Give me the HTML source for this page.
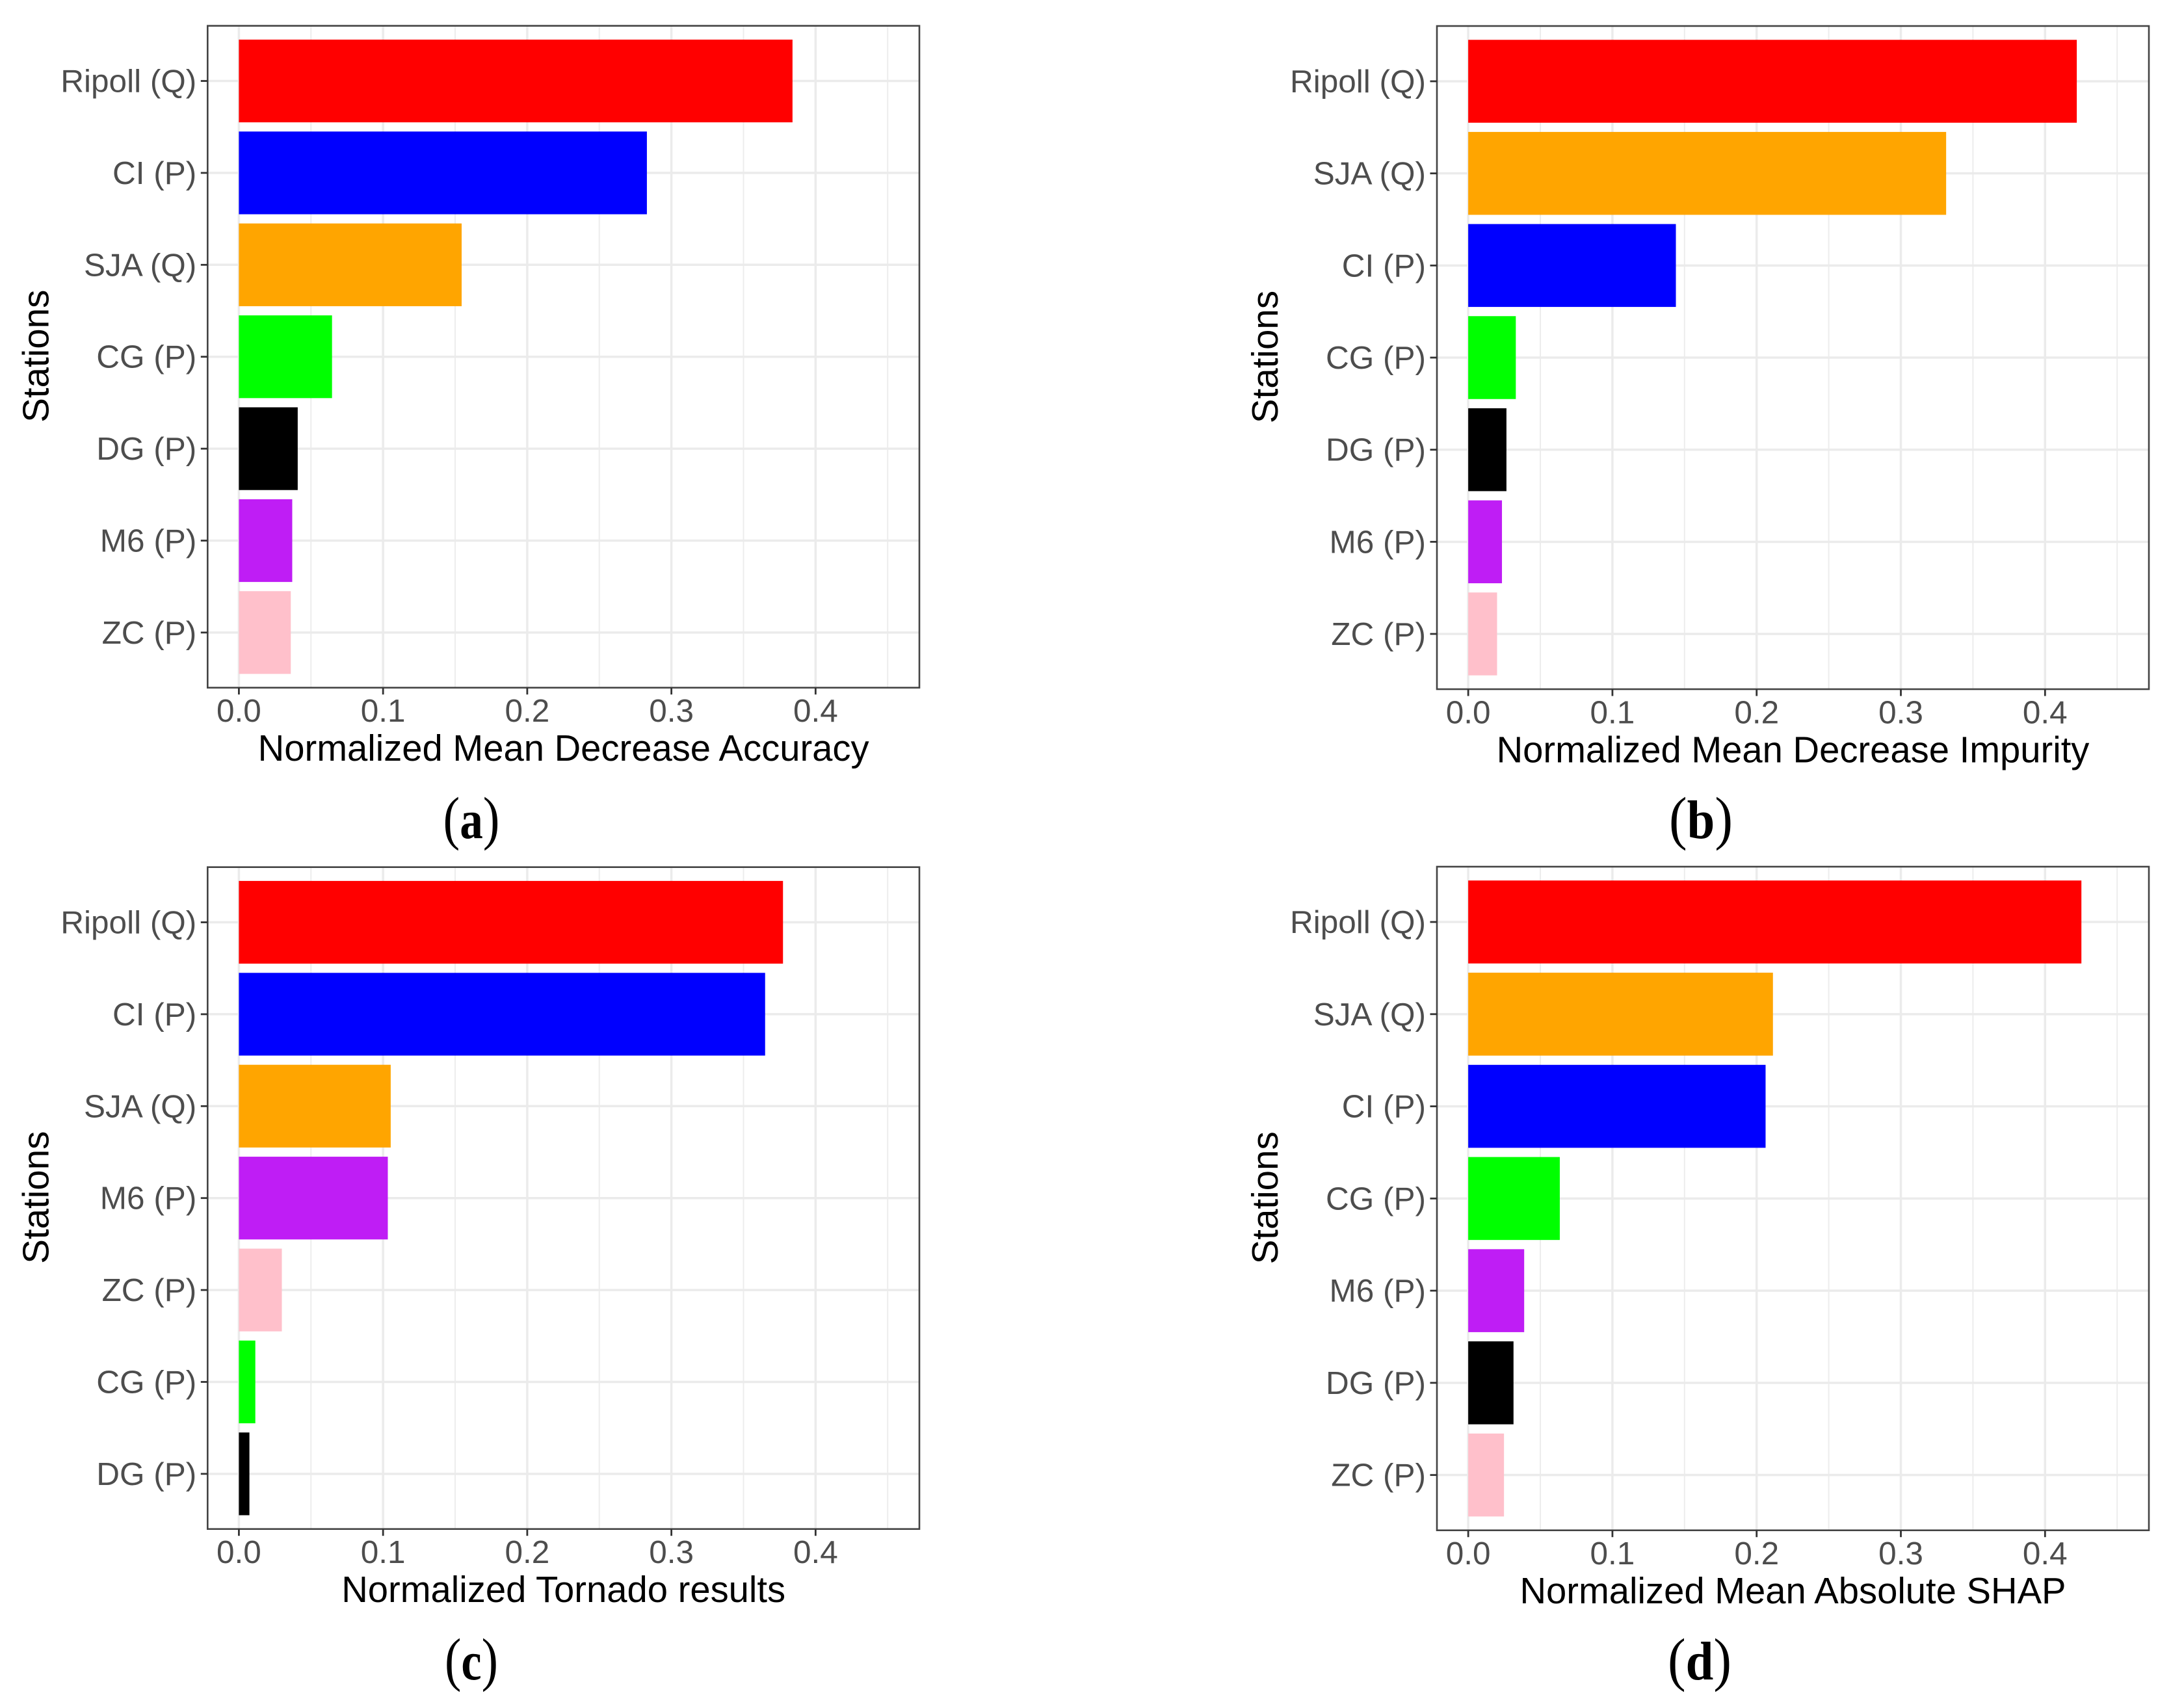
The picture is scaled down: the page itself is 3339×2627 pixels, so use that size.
<!DOCTYPE html>
<html lang="en">
<head>
<meta charset="utf-8">
<title>Normalized station importance</title>
<style>
html,body{margin:0;padding:0;background:#fff;}
svg{display:block;}
text{font-family:"Liberation Sans",Arial,sans-serif;}
</style>
</head>
<body>
<svg id="figure" xmlns="http://www.w3.org/2000/svg" width="3339" height="2627" viewBox="0 0 3339 2627"></svg>
<script>
// ---- chart data ----
const categoriesA = ["Ripoll (Q)", "CI (P)", "SJA (Q)", "CG (P)", "DG (P)", "M6 (P)", "ZC (P)"];
const valuesA = [0.384, 0.283, 0.1545, 0.0646, 0.0408, 0.037, 0.036];
const categoriesB = ["Ripoll (Q)", "SJA (Q)", "CI (P)", "CG (P)", "DG (P)", "M6 (P)", "ZC (P)"];
const valuesB = [0.422, 0.3314, 0.144, 0.033, 0.0265, 0.0234, 0.02];
const categoriesC = ["Ripoll (Q)", "CI (P)", "SJA (Q)", "M6 (P)", "ZC (P)", "CG (P)", "DG (P)"];
const valuesC = [0.3774, 0.365, 0.1053, 0.1033, 0.0298, 0.0114, 0.0073];
const categoriesD = ["Ripoll (Q)", "SJA (Q)", "CI (P)", "CG (P)", "M6 (P)", "DG (P)", "ZC (P)"];
const valuesD = [0.4252, 0.2113, 0.2062, 0.0635, 0.0388, 0.0314, 0.0248];
const majorTicks = [0, 0.1, 0.2, 0.3, 0.4];
const majorTickLabels = ["0.0", "0.1", "0.2", "0.3", "0.4"];
const minorTicks = [0.05, 0.15, 0.25, 0.35, 0.45];
const xDomain = [-0.0217, 0.472];

const stationColors = {
  "Ripoll (Q)": "#ff0000",
  "CI (P)": "#0000ff",
  "SJA (Q)": "#ffa500",
  "CG (P)": "#00ff00",
  "DG (P)": "#000000",
  "M6 (P)": "#bf1df5",
  "ZC (P)": "#ffc0cb"
};

const svg = document.getElementById('figure');
const NS = 'http://www.w3.org/2000/svg';

function make(tag, attrs, parent, content) {
  const el = document.createElementNS(NS, tag);
  for (const k in attrs) el.setAttribute(k, attrs[k]);
  if (content !== undefined) el.textContent = content;
  parent.appendChild(el);
  return el;
}

function slug(s) {
  return s.toLowerCase().replace(/[^a-z0-9]+/g, '-').replace(/^-|-$/g, '');
}

function drawPanel(p) {
  const g = make('g', {}, svg);
  
  

  const w = p.right - p.left;
  const h = p.bottom - p.top;
  const xScale = v => p.left + (v - xDomain[0]) / (xDomain[1] - xDomain[0]) * w;
  const band = h / (p.categories.length + 0.2);
  const yScale = i => p.top + (i + 0.6) * band;

  // minor vertical grid
  minorTicks.forEach(t => {
    const line = make('line', {x1: xScale(t), x2: xScale(t), y1: p.top, y2: p.bottom, stroke: '#ededed', 'stroke-width': 2}, g);
    
    
  });
  // major vertical grid
  majorTicks.forEach(t => {
    const line = make('line', {x1: xScale(t), x2: xScale(t), y1: p.top, y2: p.bottom, stroke: '#ebebeb', 'stroke-width': 3.5}, g);
    
    
  });
  // horizontal grid
  p.categories.forEach((c, i) => {
    const line = make('line', {x1: p.left, x2: p.right, y1: yScale(i), y2: yScale(i), stroke: '#ebebeb', 'stroke-width': 3.5}, g);
    
    
  });
  // bars
  p.values.forEach((v, i) => {
    const bar = make('rect', {
      x: xScale(0),
      y: yScale(i) - band * 0.45,
      width: xScale(v) - xScale(0),
      height: band * 0.9,
      fill: stationColors[p.categories[i]]
    }, g);
    
    
  });
  // panel border
  const border = make('rect', {x: p.left, y: p.top, width: w, height: h, fill: 'none', stroke: '#444444', 'stroke-width': 2.6}, g);
  
  

  // y ticks and labels
  p.categories.forEach((c, i) => {
    const tick = make('line', {x1: p.left - 10.5, x2: p.left, y1: yScale(i), y2: yScale(i), stroke: '#333333', 'stroke-width': 2.8}, g);
    
    
    const label = make('text', {x: p.left - 17, y: yScale(i) + 17, 'text-anchor': 'end', 'font-size': 49.5, fill: '#4d4d4d'}, g, c);
    
    
  });
  // x ticks and labels
  majorTicks.forEach((t, i) => {
    const tick = make('line', {x1: xScale(t), x2: xScale(t), y1: p.bottom, y2: p.bottom + 10.5, stroke: '#333333', 'stroke-width': 2.8}, g);
    
    
    const label = make('text', {x: xScale(t), y: p.bottom + 52.5, 'text-anchor': 'middle', 'font-size': 49.5, fill: '#4d4d4d'}, g, majorTickLabels[i]);
    
    
  });
  // axis titles
  const xTitle = make('text', {x: (p.left + p.right) / 2, y: p.bottom + 112.5, 'text-anchor': 'middle', 'font-size': 56.2, fill: '#000000'}, g, p.xTitle);
  
  

  const yMid = (p.top + p.bottom) / 2 - 1;
  const yX = p.left - 245;
  const yTitle = make('text', {x: yX, y: yMid, transform: 'rotate(-90 ' + yX + ' ' + yMid + ')', 'text-anchor': 'middle', 'font-size': 56.5, fill: '#000000'}, g, 'Stations');
  
  

  // sub-figure caption: regular parentheses around a bold letter
  const cap = make('text', {
    x: p.captionX,
    y: p.captionY,
    'text-anchor': 'middle',
    textLength: p.captionWidth,
    lengthAdjust: 'spacingAndGlyphs',
    fill: '#000000',
    style: 'font-family:"Liberation Serif","Times New Roman",serif'
  }, g);
  
  
  make('tspan', {'font-size': 91, 'font-weight': 'normal'}, cap, '(');
  make('tspan', {'font-size': 84, 'font-weight': 'bold'}, cap, p.caption);
  make('tspan', {'font-size': 91, 'font-weight': 'normal'}, cap, ')');
}

drawPanel({id: 'a', left: 319.3, right: 1414, top: 39.7, bottom: 1057.7, categories: categoriesA, values: valuesA,
  xTitle: 'Normalized Mean Decrease Accuracy', caption: 'a', captionX: 725, captionY: 1289, captionWidth: 87});
drawPanel({id: 'b', left: 2210, right: 3305, top: 40, bottom: 1060, categories: categoriesB, values: valuesB,
  xTitle: 'Normalized Mean Decrease Impurity', caption: 'b', captionX: 2616, captionY: 1289, captionWidth: 98});
drawPanel({id: 'c', left: 319.3, right: 1414, top: 1333.7, bottom: 2351.7, categories: categoriesC, values: valuesC,
  xTitle: 'Normalized Tornado results', caption: 'c', captionX: 725, captionY: 2583, captionWidth: 82});
drawPanel({id: 'd', left: 2210, right: 3305, top: 1333, bottom: 2353.7, categories: categoriesD, values: valuesD,
  xTitle: 'Normalized Mean Absolute SHAP', caption: 'd', captionX: 2614, captionY: 2583, captionWidth: 98});
</script>
</body>
</html>
